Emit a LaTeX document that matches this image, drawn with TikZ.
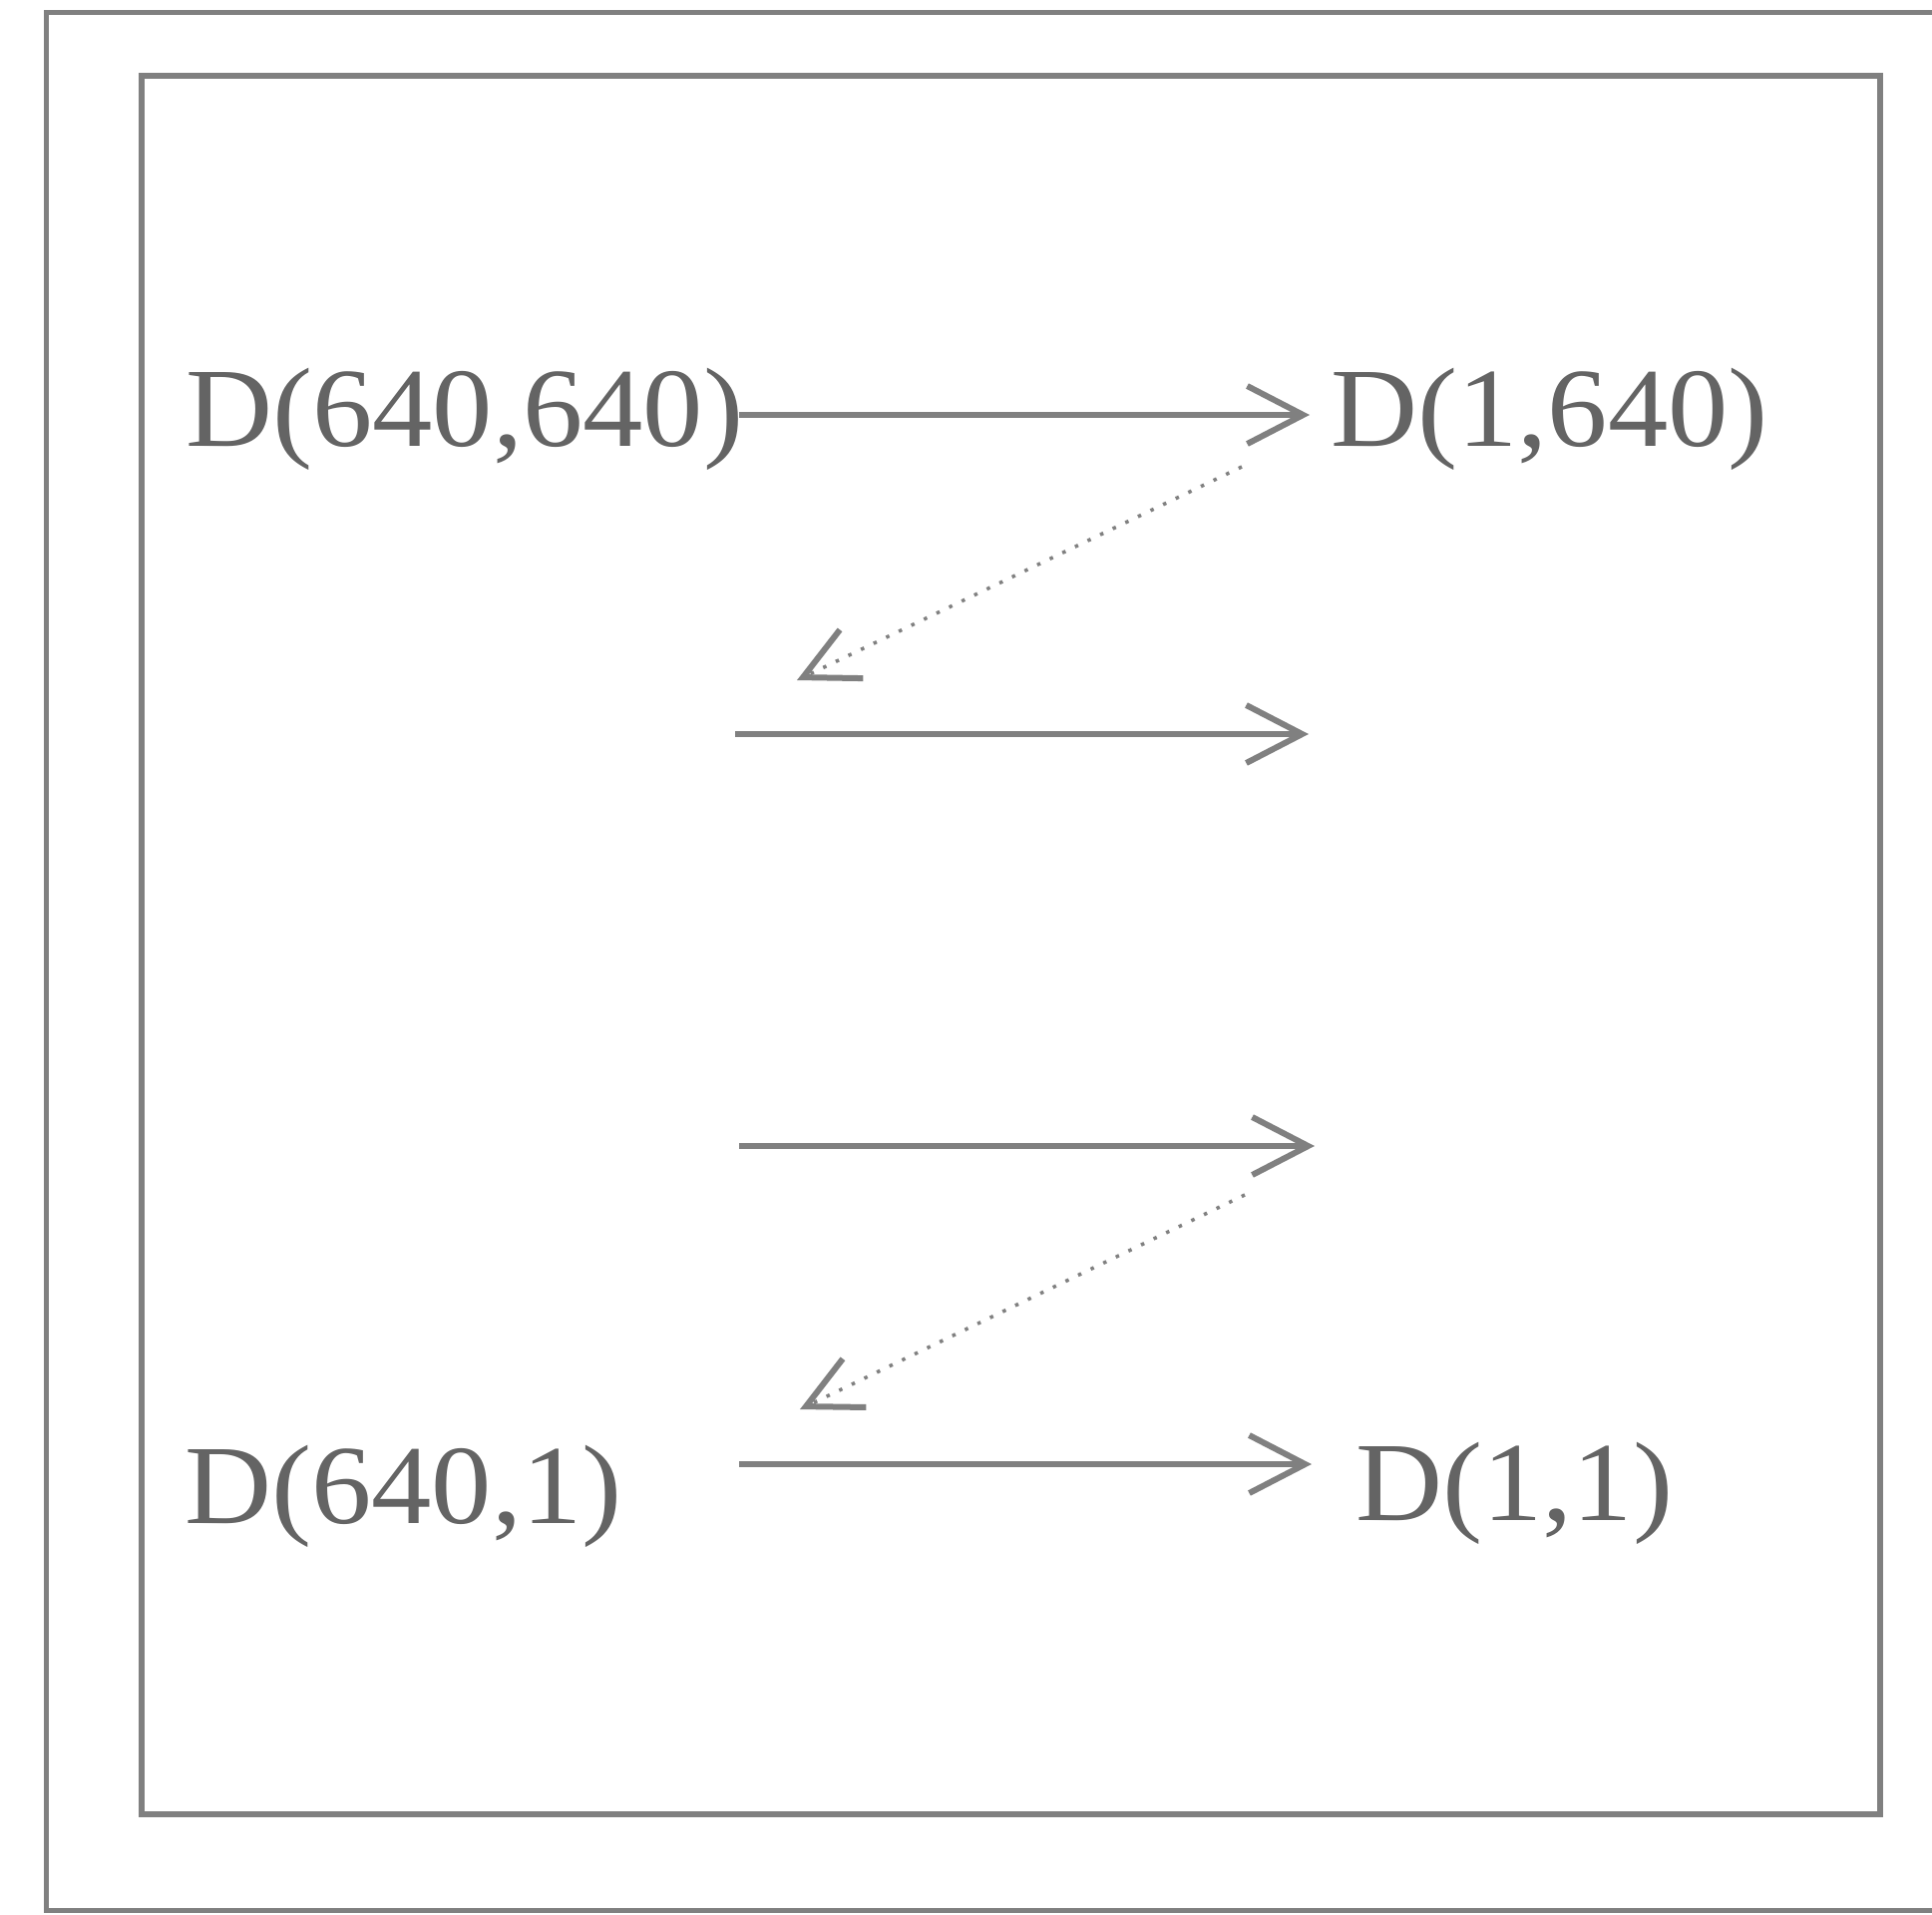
\documentclass[tikz,border=0pt]{standalone}
\usepackage{fontspec}
\setmainfont{Liberation Serif}
\usetikzlibrary{arrows.meta}
\definecolor{linegray}{RGB}{128,128,128}
\definecolor{textgray}{RGB}{100,100,100}
\tikzset{
  frame/.style={draw=linegray, line width=5pt},
  lbl/.style={anchor=base west, inner sep=0pt, text=textgray, xscale=1.067, font=\fontsize{113}{118}\selectfont},
  solidarrow/.style={draw=linegray, line width=6pt, -{Straight Barb[length=56pt, width=58pt, line width=6pt]}},
  dotarrow/.style={draw=linegray, line width=3.5pt, dash pattern=on 3.5pt off 10.5pt, -{Straight Barb[length=54pt, width=54pt, line width=6pt]}}
}
\begin{document}
\begin{tikzpicture}[x=1pt, y=-1pt]
\useasboundingbox (0,0) rectangle (1937,1919);
\clip (0,0) rectangle (1937,1919);
\fill[white] (0,0) rectangle (1937,1919);
% frames
\draw[frame] (46,13) rectangle (1980,1915);
\draw[frame, line width=5.5pt] (142,76) rectangle (1885,1819);
% labels
\node[lbl] (n1) at (186,447) {D(640,640)};
\node[lbl] (n2) at (1334,447) {D(1,640)};
\node[lbl] (n3) at (185,1527) {D(640,1)};
\node[lbl] (n4) at (1359,1524) {D(1,1)};
% arrow end points
\coordinate (a1s) at (741,416);
\coordinate (a1e) at (1313,416);
\coordinate (d1s) at (1245,468);
\coordinate (d1e) at (799,682);
\coordinate (a2s) at (737,736);
\coordinate (a2e) at (1312,736);
\coordinate (a3s) at (741,1149);
\coordinate (a3e) at (1318,1149);
\coordinate (d2s) at (1248,1198);
\coordinate (d2e) at (802,1413);
\coordinate (a4s) at (741,1468);
\coordinate (a4e) at (1315,1468);
% arrows
\draw[solidarrow] (a1s) -- (a1e);
\draw[dotarrow] (d1s) -- (d1e);
\draw[solidarrow] (a2s) -- (a2e);
\draw[solidarrow] (a3s) -- (a3e);
\draw[dotarrow] (d2s) -- (d2e);
\draw[solidarrow] (a4s) -- (a4e);
\end{tikzpicture}
\end{document}
